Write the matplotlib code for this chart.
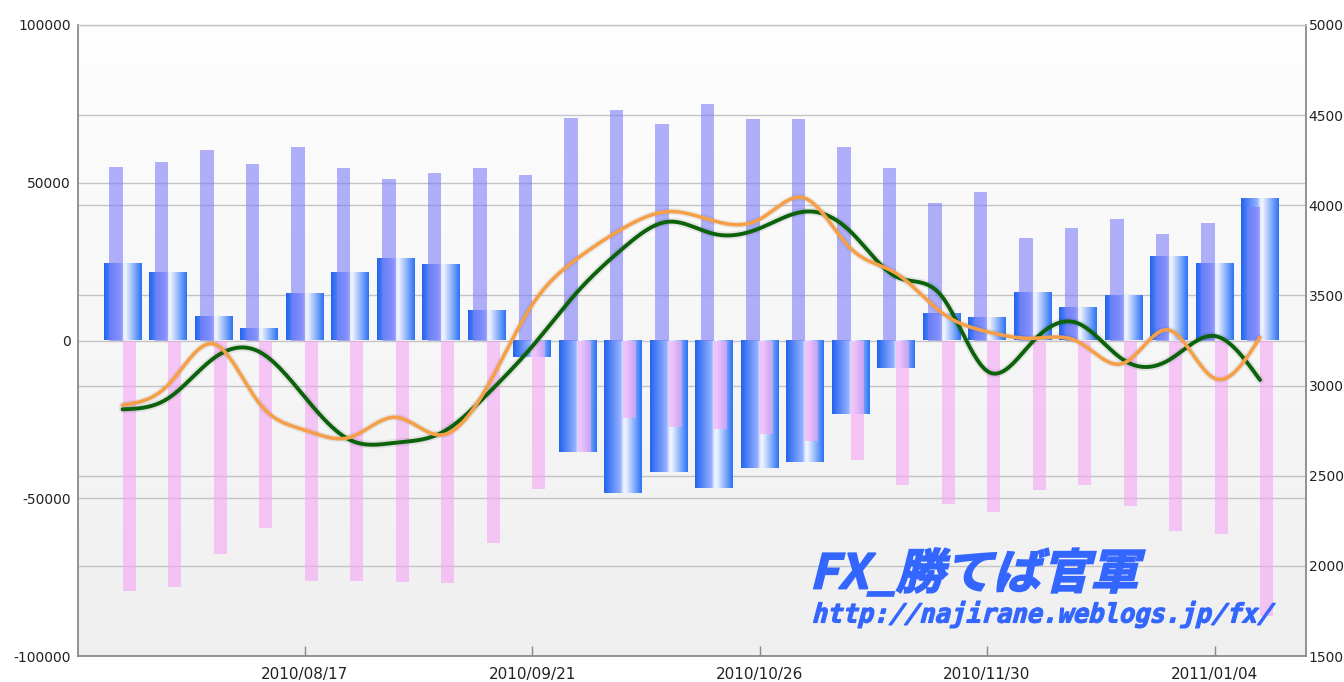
import numpy as np
import matplotlib
matplotlib.use('Agg')
import matplotlib.pyplot as plt
from matplotlib.textpath import TextPath
from matplotlib.font_manager import FontProperties
from matplotlib.patches import PathPatch
from matplotlib.path import Path

plt.rcParams['axes.unicode_minus'] = False

# ---------------- data ----------------
weeks = ['2010/07/20', '2010/07/27', '2010/08/03', '2010/08/10', '2010/08/17',
         '2010/08/24', '2010/08/31', '2010/09/07', '2010/09/14', '2010/09/21',
         '2010/09/28', '2010/10/05', '2010/10/12', '2010/10/19', '2010/10/26',
         '2010/11/02', '2010/11/09', '2010/11/16', '2010/11/23', '2010/11/30',
         '2010/12/07', '2010/12/14', '2010/12/21', '2010/12/28', '2011/01/04',
         '2011/01/11']
tick_labels = ['2010/08/17', '2010/09/21', '2010/10/26', '2010/11/30', '2011/01/04']

purple_vals = [55100, 56600, 60300, 55900, 61400, 54700, 51100, 53100, 54700, 52400,
               70600, 73000, 68500, 75000, 70200, 70200, 61400, 54700, 43600, 47200,
               32500, 35700, 38500, 33700, 37200, 42400]
pink_vals = [-79300, -78100, -67800, -59500, -76100, -76100, -76700, -77000, -64100, -47200,
             -35300, -24600, -27300, -28000, -29700, -31800, -38000, -45900, -51900, -54400,
             -47500, -45900, -52600, -60400, -61400, -87300]
net_vals = [24200, 21500, 7300, 3600, 14700, 21500, 25700, 23900, 9400, -5100,
            -35300, -48400, -41600, -46800, -40400, -38400, -23400, -8700, 8300, 7100,
            15200, 10200, 14200, 26600, 24200, 45000]
green_line = [2868, 2929, 3151, 3188, 2938, 2698, 2683, 2737, 2948, 3216,
              3521, 3762, 3909, 3841, 3872, 3965, 3854, 3604, 3497, 3081,
              3243, 3345, 3142, 3142, 3275, 3031]
orange_line = [2892, 3003, 3231, 2903, 2754, 2713, 2824, 2726, 2987, 3447,
               3706, 3872, 3965, 3913, 3922, 4039, 3761, 3623, 3405, 3299,
               3262, 3243, 3124, 3308, 3040, 3268]

left_ticks = [-100000, -50000, 0, 50000, 100000]
right_ticks = [1500, 2000, 2500, 3000, 3500, 4000, 4500, 5000]

# ---------------- helpers ----------------
def natural_spline(xs, ys, num=600):
    xs = np.asarray(xs, float); ys = np.asarray(ys, float)
    n = len(xs); h = np.diff(xs)
    A = np.zeros((n, n)); b = np.zeros(n)
    A[0, 0] = A[-1, -1] = 1
    for i in range(1, n - 1):
        A[i, i - 1] = h[i - 1]; A[i, i] = 2 * (h[i - 1] + h[i]); A[i, i + 1] = h[i]
        b[i] = 6 * ((ys[i + 1] - ys[i]) / h[i] - (ys[i] - ys[i - 1]) / h[i - 1])
    M = np.linalg.solve(A, b)
    xx = np.linspace(xs[0], xs[-1], num)
    idx = np.clip(np.searchsorted(xs, xx) - 1, 0, n - 2)
    x0 = xs[idx]; x1 = xs[idx + 1]; hh = x1 - x0; t0 = x1 - xx; t1 = xx - x0
    yy = (M[idx] * t0 ** 3 / (6 * hh) + M[idx + 1] * t1 ** 3 / (6 * hh)
          + (ys[idx] / hh - M[idx] * hh / 6) * t0 + (ys[idx + 1] / hh - M[idx + 1] * hh / 6) * t1)
    return xx, yy


def gradient_row(stops, n=80):
    pos = np.linspace(0, 1, n)
    sp = [s[0] for s in stops]
    cols = np.array([s[1] for s in stops], float) / 255.0
    rgb = np.stack([np.interp(pos, sp, cols[:, c]) for c in range(3)], axis=1)
    return rgb[None, :, :]


def skew_text(ax, s, fp, x0, x1, ytop, ybot, skew, color, lw=0.0):
    tp = TextPath((0, 0), s, size=100, prop=fp)
    v = tp.vertices.copy()
    ext = tp.get_extents()
    u = (v[:, 0] - ext.x0) / ext.width
    t = (v[:, 1] - ext.y0) / ext.height
    W = x1 - x0 - skew
    X = x0 + u * W + t * skew
    Y = ybot - t * (ybot - ytop)
    ax.add_patch(PathPatch(Path(np.column_stack([X, Y]), tp.codes), fc=color,
                           ec=color if lw > 0 else 'none', lw=lw))

# ---------------- figure ----------------
W_PX, H_PX = 1344, 682
fig = plt.figure(figsize=(W_PX / 100, H_PX / 100), dpi=100)
fig.patch.set_facecolor('white')
L, R, T, B = 78, 1306, 25, 656
ax = fig.add_axes([L / W_PX, 1 - B / H_PX, (R - L) / W_PX, (B - T) / H_PX])
x = np.arange(len(weeks))
XLIM = (-0.98, 26.01)
YLIM = (-100000, 100000)

# background gradient
bg = np.linspace(254, 239, 200) / 255.0
bg_img = np.repeat(bg[:, None, None], 3, axis=2)
ax.imshow(bg_img, extent=(0, 1, 0, 1), transform=ax.transAxes, aspect='auto', zorder=0,
          interpolation='bilinear')

# grid lines (left scale and right scale)
for v in left_ticks:
    ax.axhline(v, color='#c4c4c4', lw=1.0, zorder=0.5)
for r in right_ticks[1:-1]:
    vv = YLIM[0] + (r - 1500) / 3500 * (YLIM[1] - YLIM[0])
    ax.axhline(vv, color='#c4c4c4', lw=1.0, zorder=0.5)

# net bars with gradient
grad = gradient_row([(0, (35, 100, 240)), (0.44, (150, 178, 255)), (0.5, (225, 234, 255)),
                     (0.56, (242, 246, 255)), (1.0, (45, 115, 245))])
bw = 0.41
for xi, v in zip(x, net_vals):
    ax.imshow(grad, extent=(xi - bw, xi + bw, min(0, v), max(0, v)), aspect='auto',
              zorder=2, interpolation='bilinear')

# purple and pink bars (semi transparent overlay)
ax.bar(x - 0.145, purple_vals, width=0.29, color=(125 / 255, 125 / 255, 249 / 255),
       alpha=0.6, zorder=3, linewidth=0)
ax.bar(x + 0.145, pink_vals, width=0.29, color=(245 / 255, 165 / 255, 245 / 255),
       alpha=0.6, zorder=3, linewidth=0)

ax.set_xlim(*XLIM)
ax.set_ylim(*YLIM)
ax.set_yticks(left_ticks)
ax.set_yticklabels([str(v) for v in left_ticks])
tick_pos = [weeks.index(t) for t in tick_labels]
ax.set_xticks(tick_pos)
ax.set_xticklabels(tick_labels)
ax.tick_params(axis='y', length=0, pad=5, labelsize=10, labelcolor='#222222')
ax.tick_params(axis='x', direction='in', length=7, width=1, color='#888888', pad=8,
               labelsize=11, labelcolor='#222222')
for side in ['left', 'right', 'bottom']:
    ax.spines[side].set_color('#8a8a8a')
    ax.spines[side].set_linewidth(1.3)
ax.spines['top'].set_color('#c4c4c4')
ax.spines['top'].set_linewidth(1.0)

# right axis with lines
ax2 = ax.twinx()
ax2.set_ylim(1500, 5000)
ax2.set_yticks(right_ticks)
ax2.set_yticklabels([str(v) for v in right_ticks])
ax2.tick_params(axis='y', length=0, pad=2, labelsize=10, labelcolor='#222222')
for side in ['left', 'right', 'bottom', 'top']:
    ax2.spines[side].set_visible(False)

gx, gy = natural_spline(x, green_line)
ox, oy = natural_spline(x, orange_line)
ax2.plot(gx, gy, color=(0, 0, 0, 0.08), lw=5.5, zorder=3, solid_capstyle='round')
ax2.plot(gx, gy, color='#0b620b', lw=2.8, zorder=4, solid_capstyle='round')
ax2.plot(ox, oy, color=(0, 0, 0, 0.06), lw=5.0, zorder=5, solid_capstyle='round')
ax2.plot(ox, oy, color='#f5a048', lw=2.6, zorder=6, solid_capstyle='round')
ax2.set_xlim(*XLIM)

# watermark
oax = fig.add_axes([0, 0, 1, 1], zorder=20)
oax.set_xlim(0, W_PX)
oax.set_ylim(H_PX, 0)
oax.axis('off')
oax.patch.set_visible(False)
wm_color = '#3366ff'
skew_text(oax, 'FX_勝てば官軍', FontProperties(family='Noto Sans CJK JP', weight='bold'),
          812, 1146, 548, 596, 12, wm_color, lw=1.2)
skew_text(oax, 'http://najirane.weblogs.jp/fx/',
          FontProperties(family='DejaVu Sans Mono', weight='bold'),
          812, 1276, 601, 628, 7, wm_color, lw=0.8)

fig.savefig('out.png', dpi=100)
